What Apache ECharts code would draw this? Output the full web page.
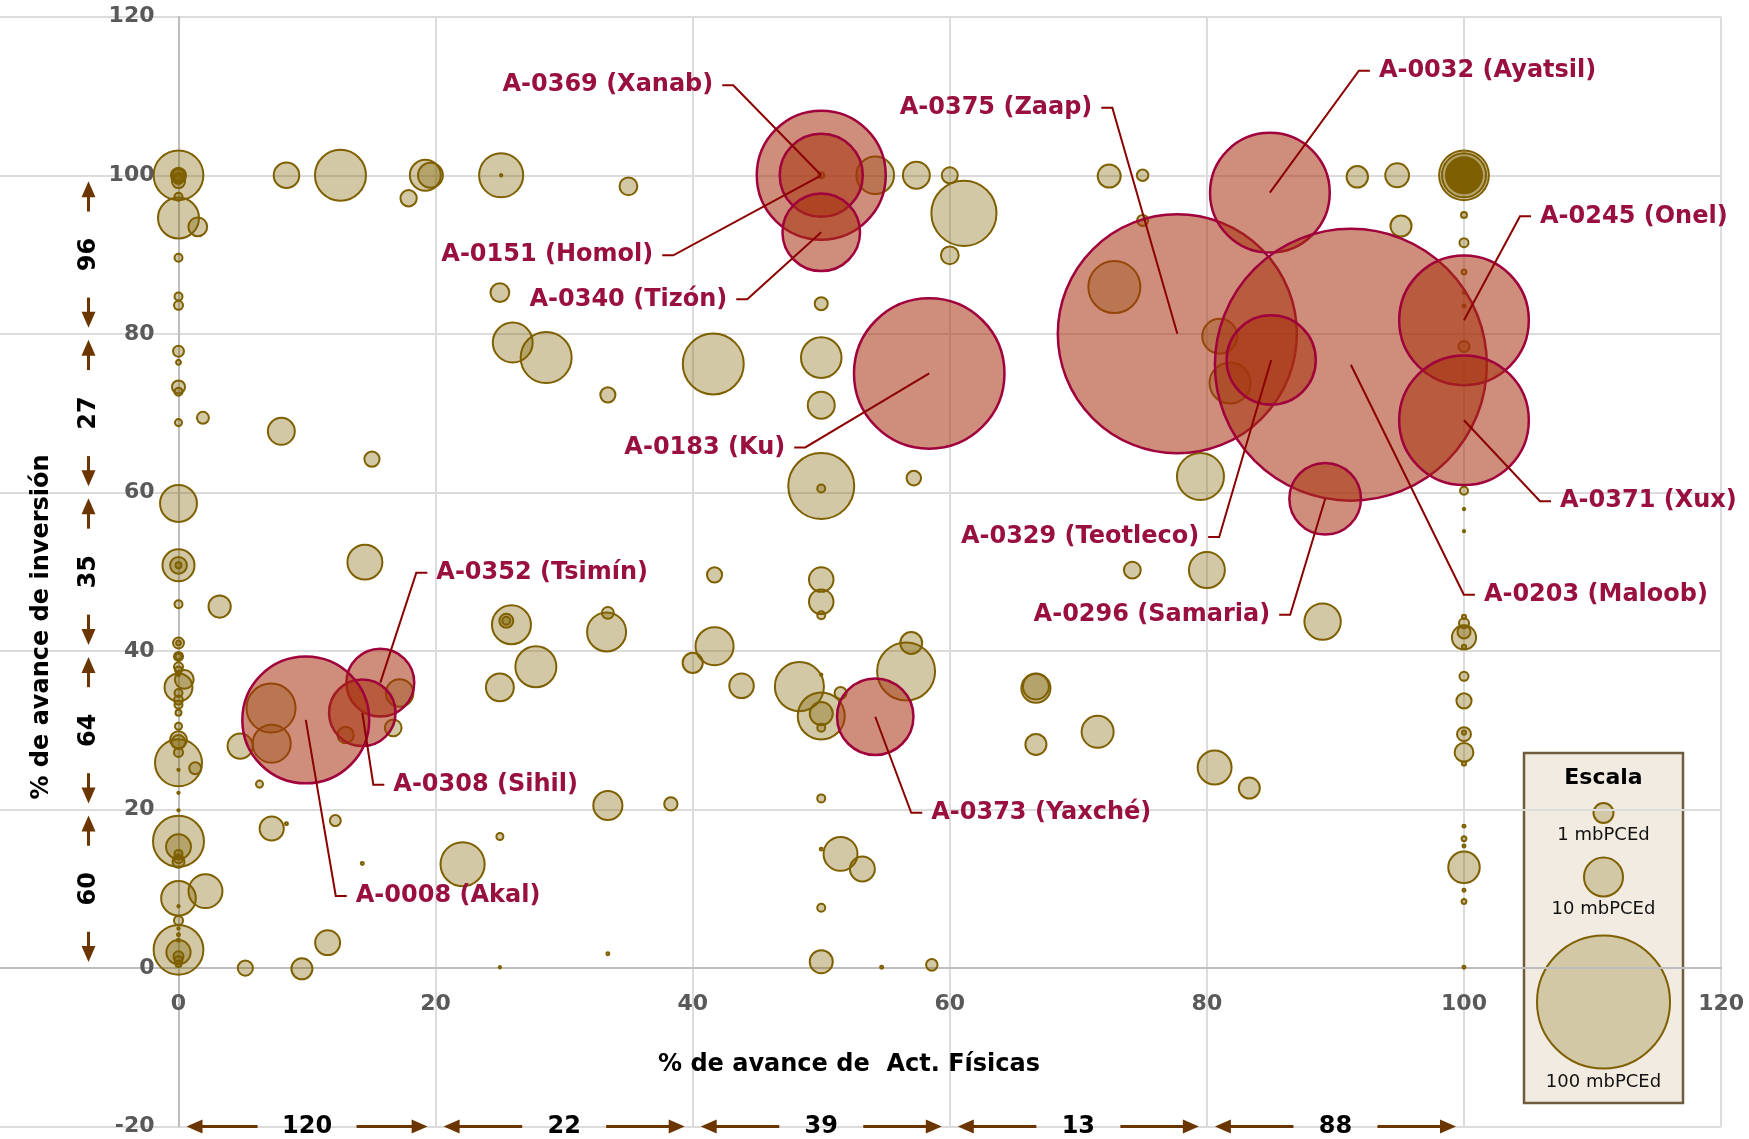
<!DOCTYPE html>
<html>
<head>
<meta charset="utf-8">
<title>Avance físico vs inversión</title>
<script src="https://cdn.jsdelivr.net/npm/echarts@6/dist/echarts.min.js"></script>
<style>
  html, body { margin: 0; padding: 0; background: #fff; }
  #chart { width: 1749px; height: 1139px; }
</style>
</head>
<body>
<div id="chart"></div>
<script>
// campos destacados: [nombre, % avance act. físicas, % avance inversión, producción mbPCEd]
const mainFields = [
  ['A-0369 (Xanab)', 50, 100, 94],
  ['A-0151 (Homol)', 50, 100, 39],
  ['A-0340 (Tizón)', 50, 92.8, 34],
  ['A-0375 (Zaap)', 77.7, 80.0, 323],
  ['A-0032 (Ayatsil)', 84.9, 97.8, 81],
  ['A-0203 (Maloob)', 91.2, 76.1, 418],
  ['A-0245 (Onel)', 100, 81.7, 95],
  ['A-0371 (Xux)', 100, 69.1, 95],
  ['A-0329 (Teotleco)', 85.0, 76.7, 45],
  ['A-0296 (Samaria)', 89.2, 59.2, 29],
  ['A-0183 (Ku)', 58.4, 75.0, 128],
  ['A-0352 (Tsimín)', 15.7, 36.0, 26],
  ['A-0308 (Sihil)', 14.3, 32.2, 25],
  ['A-0008 (Akal)', 9.9, 31.3, 91],
  ['A-0373 (Yaxché)', 54.2, 31.7, 33]
];

// resto de las asignaciones: [% act. físicas, % inversión, mbPCEd]
const otherFields = [
  [0, 100, 14], [0, 100, 1.3], [0, 100, 0.96], [0, 100, 0.8], [0, 99.6, 0.68], [0, 99.2, 0.96], [0, 97.3, 0.36],
  [0, 94.6, 9.5], [1.5, 93.5, 2.0], [0, 89.6, 0.36], [0, 84.7, 0.36], [0, 83.6, 0.46],
  [0, 77.8, 0.68], [0, 76.4, 0.14], [0, 73.3, 0.96], [0, 72.7, 0.36],
  [8.4, 100, 3.7], [12.6, 100, 14.7], [19.2, 100, 5.4], [19.6, 100, 3.5], [17.9, 97.1, 1.5],
  [25.1, 100, 11], [25.1, 100, 0.03], [35.0, 98.6, 1.8], [25.0, 85.2, 2.0], [26.0, 78.9, 9.0],
  [28.6, 77.0, 14.7], [33.4, 72.3, 1.3],
  [50, 100, 0.2], [54.2, 100, 8.0], [57.4, 100, 4.1], [60.0, 100, 1.45], [61.1, 95.2, 24],
  [60.0, 89.9, 1.8], [50.0, 83.8, 0.96], [41.6, 76.2, 21], [50.0, 77.0, 9.3], [50.0, 71.0, 4.1],
  [72.8, 85.9, 15.3], [72.4, 99.9, 3.0], [75.0, 100, 0.75], [75.0, 94.3, 0.68],
  [91.7, 99.8, 2.6], [94.8, 100, 3.2], [95.1, 93.6, 2.5],
  [100, 100, 14], [100, 100, 11], [100, 100, 7.3], [100, 100, 6.9], [100, 100, 6.5], [100, 100, 6.2],
  [100, 100, 5.8], [100, 100, 5.4], [100, 100, 4.4], [100, 100, 3.0], [100, 100, 1.8], [100, 100, 0.96],
  [100, 95.0, 0.2], [100, 91.5, 0.46], [100, 87.8, 0.14], [100, 85.2, 0.05], [100, 83.5, 0.05], [100, 78.4, 0.68],
  [81.0, 79.7, 6.9], [81.8, 73.8, 9.5],
  [0, 68.8, 0.28], [1.9, 69.4, 0.81], [8.0, 67.7, 4.1], [15.05, 64.2, 1.3], [0, 58.6, 7.7],
  [0, 50.8, 5.8], [0, 50.8, 1.6], [0, 50.8, 0.2], [14.5, 51.2, 6.9], [0, 45.9, 0.36], [3.2, 45.6, 2.8],
  [0, 41.0, 0.68], [0, 41.0, 0.14], [0, 39.3, 0.46], [0, 39.3, 0.2], [0, 38.0, 0.46], [0, 37.6, 0.28], [0, 37.0, 0.05],
  [0.45, 36.4, 2.0], [0, 35.4, 4.4], [0, 34.7, 0.36], [0, 33.8, 0.46], [0, 33.2, 0.36], [0, 32.2, 0.2],
  [0, 30.5, 0.28], [0, 28.8, 1.6], [0, 28.5, 1.1], [0, 27.2, 0.46], [0, 25.9, 12.5], [1.3, 25.2, 0.81],
  [0, 25.0, 0.03], [0, 22.1, 0.03], [0, 19.9, 0.03],
  [4.8, 28.0, 3.6], [6.3, 23.2, 0.28], [7.2, 32.8, 13.6], [7.25, 28.3, 8.2], [13.0, 29.4, 1.5],
  [17.2, 34.7, 4.3], [16.7, 30.3, 1.6],
  [25.9, 43.3, 8.6], [25.5, 43.8, 1.1], [25.5, 43.8, 0.36], [27.8, 38.0, 9.5], [25.0, 35.4, 4.4],
  [33.4, 44.8, 0.81], [33.3, 42.4, 8.6],
  [50, 60.8, 24.6], [50, 60.5, 0.36], [57.2, 61.8, 1.2], [41.7, 49.6, 1.3], [50, 49.0, 3.4], [50, 46.2, 3.4], [50, 44.5, 0.36],
  [41.7, 40.6, 8.2], [40.0, 38.5, 2.3], [43.8, 35.6, 3.4], [48.3, 35.5, 13.6],
  [50, 31.8, 12.5], [50, 32.1, 3.0], [50, 30.3, 0.36], [51.5, 34.7, 0.81], [50, 37.0, 0.03],
  [57.0, 41.0, 2.7], [56.6, 37.4, 19], [66.7, 35.3, 4.8], [66.7, 35.5, 3.8], [66.7, 28.2, 2.5], [71.5, 29.8, 5.8],
  [74.2, 50.2, 1.6], [80, 50.2, 7.3], [79.5, 62.0, 12.5], [89.0, 43.7, 7.5],
  [100, 60.2, 0.36], [100, 57.9, 0.03], [100, 55.1, 0.03],
  [100, 41.7, 3.3], [100, 42.4, 0.96], [100, 43.5, 0.57], [100, 44.3, 0.1], [100, 40.5, 0.1],
  [100, 36.8, 0.46], [100, 33.7, 1.3], [100, 29.5, 1.1], [100, 29.7, 0.1], [100, 27.2, 2.0], [100, 25.8, 0.1],
  [80.6, 25.3, 6.5], [83.3, 22.7, 2.5],
  [100, 17.9, 0.05], [100, 16.3, 0.14], [100, 15.4, 0.05], [100, 12.7, 5.6], [100, 9.8, 0.05], [100, 8.4, 0.14], [100, 0.1, 0.05],
  [0, 16.0, 14.7], [0, 15.3, 3.5], [0, 14.4, 0.36], [0, 13.8, 0.46], [0, 13.4, 0.81],
  [0, 8.8, 6.8], [2.1, 9.7, 6.5], [0, 6.0, 0.46], [0, 7.8, 0.03], [0, 5.0, 0.03], [0, 4.2, 0.05], [0, 3.5, 0.05],
  [0, 2.3, 14], [0, 2.0, 3.3], [0, 1.5, 0.57], [0, 1.0, 0.36], [0, 0.5, 0.2],
  [5.2, 0.0, 1.3], [9.6, -0.1, 2.5], [11.6, 3.2, 3.5], [7.25, 17.6, 3.3], [8.4, 18.2, 0.05], [12.2, 18.6, 0.68],
  [14.3, 13.2, 0.05], [22.1, 13.1, 11], [25.0, 16.6, 0.28], [25.0, 0.1, 0.03],
  [33.4, 20.5, 4.8], [38.3, 20.7, 1.0], [33.4, 1.8, 0.05],
  [50, 21.4, 0.36], [51.5, 14.4, 6.5], [53.2, 12.5, 3.5], [50, 15.0, 0.05], [50, 7.6, 0.36], [50, 0.8, 3.0],
  [54.7, 0.1, 0.05], [58.6, 0.4, 0.75]
];

// número de asignaciones por tramo: [desde, hasta, cantidad]
const xBands = [[0, 20, 120], [20, 40, 22], [40, 60, 39], [60, 80, 13], [80, 100, 88]];
const yBands = [[80, 100, 96], [60, 80, 27], [40, 60, 35], [20, 40, 64], [0, 20, 60]];

const axisTicks = [-20, 0, 20, 40, 60, 80, 100, 120];
const scaleValues = ['1 mbPCEd', '10 mbPCEd', '100 mbPCEd'];

// posición de las etiquetas (px respecto al centro de la burbuja)
const labelPlacement = {
  'A-0369 (Xanab)': [-88, -90, 'left'],
  'A-0151 (Homol)': [-148, 80, 'left'],
  'A-0340 (Tizón)': [-74, 67, 'left'],
  'A-0375 (Zaap)': [-65, -226, 'left'],
  'A-0032 (Ayatsil)': [89, -122, 'right'],
  'A-0203 (Maloob)': [113, 230, 'right'],
  'A-0245 (Onel)': [56, -104, 'right'],
  'A-0371 (Xux)': [76, 81, 'right'],
  'A-0329 (Teotleco)': [-52, 177, 'left'],
  'A-0296 (Samaria)': [-35, 116, 'left'],
  'A-0183 (Ku)': [-124, 74, 'left'],
  'A-0352 (Tsimín)': [36, -110, 'right'],
  'A-0308 (Sihil)': [11, 72, 'right'],
  'A-0008 (Akal)': [30, 176, 'right'],
  'A-0373 (Yaxché)': [36, 96, 'right']
};

const FONT = '"DejaVu Sans", sans-serif';
const ARROW = '#6b3500';
const TICK_FONT = 'bold 22px ' + FONT;
const bubbleSize = (val) => 13.3 * Math.sqrt(val[2]);

function arrowHead(tip, dx, dy) {
  const len = 16, hw = 7;
  const bx = tip[0] - dx * len, by = tip[1] - dy * len;
  return {
    type: 'polygon',
    shape: { points: [tip, [bx - dy * hw, by + dx * hw], [bx + dy * hw, by - dx * hw]] },
    style: { fill: ARROW }
  };
}

function renderXBand(params, api) {
  const p0 = api.coord([api.value(0), api.value(2)]);
  const p1 = api.coord([api.value(1), api.value(2)]);
  const label = String(api.value(3));
  const y = p0[1];
  const cx = (p0[0] + p1[0]) / 2;
  const half = label.length * 7.5 + 27;
  const tl = p0[0] + 8, tr = p1[0] - 8;
  return {
    type: 'group',
    children: [
      { type: 'line', shape: { x1: cx - half, y1: y, x2: tl + 10, y2: y }, style: { stroke: ARROW, lineWidth: 3 } },
      arrowHead([tl, y], -1, 0),
      { type: 'line', shape: { x1: cx + half, y1: y, x2: tr - 10, y2: y }, style: { stroke: ARROW, lineWidth: 3 } },
      arrowHead([tr, y], 1, 0),
      { type: 'text', x: cx, y: y, style: { text: label, font: 'bold 24px ' + FONT, fill: '#000', align: 'center', verticalAlign: 'middle' } }
    ]
  };
}

function renderYBand(params, api) {
  const p0 = api.coord([api.value(0), api.value(1)]);
  const p1 = api.coord([api.value(0), api.value(2)]);
  const label = String(api.value(3));
  const x = p0[0] - 90;
  const cy = (p0[1] + p1[1]) / 2;
  const half = label.length * 7.5 + 28;
  const tb = p0[1] - 6, tt = p1[1] + 6;
  return {
    type: 'group',
    children: [
      { type: 'line', shape: { x1: x, y1: cy - half, x2: x, y2: tt + 10 }, style: { stroke: ARROW, lineWidth: 3 } },
      arrowHead([x, tt], 0, -1),
      { type: 'line', shape: { x1: x, y1: cy + half, x2: x, y2: tb - 10 }, style: { stroke: ARROW, lineWidth: 3 } },
      arrowHead([x, tb], 0, 1),
      { type: 'text', x: x, y: cy, rotation: Math.PI / 2, style: { text: label, font: 'bold 24px ' + FONT, fill: '#000', align: 'center', verticalAlign: 'middle' } }
    ]
  };
}

// etiquetas de los ejes, ancladas al cruce de los ejes en 0
function renderXTick(params, api) {
  const p = api.coord([api.value(0), 0]);
  return { type: 'text', x: p[0], y: p[1] + 36, style: { text: String(api.value(0)), font: TICK_FONT, fill: '#595959', align: 'center', verticalAlign: 'middle' } };
}
function renderYTick(params, api) {
  const p = api.coord([0, api.value(1)]);
  return { type: 'text', x: p[0] - 24, y: p[1], style: { text: String(api.value(1)), font: TICK_FONT, fill: '#595959', align: 'right', verticalAlign: 'middle' } };
}

function renderLabel(params, api) {
  const name = mainFields[params.dataIndex][0];
  const c = api.coord([api.value(0), api.value(1)]);
  const [dx, dy, side] = labelPlacement[name];
  const dir = side === 'left' ? -1 : 1;
  const kx = c[0] + dx, ky = c[1] + dy;
  const sx = kx + dir * 11;
  return {
    type: 'group',
    children: [
      { type: 'polyline', shape: { points: [c, [kx, ky], [sx, ky]] }, style: { stroke: '#8b0000', lineWidth: 2, fill: null } },
      { type: 'text', x: sx + dir * 9, y: ky, style: { text: name, font: 'bold 24px ' + FONT, fill: '#990f3d', align: side === 'left' ? 'right' : 'left', verticalAlign: 'middle' } }
    ]
  };
}

// leyenda de escala
const legendY = [813, 877, 1002];
const legendD = [20, 39, 133];
const legendTextY = [835, 909, 1082];
const legendItems = [
  { type: 'rect', shape: { x: 1524, y: 753, width: 159, height: 350 }, style: { fill: '#f1ebe1', stroke: '#6e5c3c', lineWidth: 2.5 } },
  { type: 'text', x: 1603.5, y: 778, style: { text: 'Escala', font: 'bold 22px ' + FONT, fill: '#000', align: 'center', verticalAlign: 'middle' } }
];
scaleValues.forEach((t, i) => {
  legendItems.push({ type: 'circle', shape: { cx: 1603.5, cy: legendY[i], r: legendD[i] / 2 }, style: { fill: '#d3c8a6', stroke: '#7f6000', lineWidth: 2 } });
  legendItems.push({ type: 'text', x: 1603.5, y: legendTextY[i], style: { text: t, font: '18px ' + FONT, fill: '#111', align: 'center', verticalAlign: 'middle' } });
});

const chart = echarts.init(document.getElementById('chart'));
chart.setOption({
  animation: false,
  backgroundColor: '#fff',
  grid: { left: -78.6, right: 27.9, top: 16.7, bottom: 12.4, containLabel: false, outerBoundsMode: 'none' },
  xAxis: {
    type: 'value', min: axisTicks[0], max: axisTicks[axisTicks.length - 1], interval: 20,
    axisLine: { onZero: true, lineStyle: { color: '#bdbdbd', width: 2 } },
    axisTick: { show: false },
    axisLabel: { show: false },
    splitLine: { show: true, lineStyle: { color: '#dcdcdc', width: 2 } }
  },
  yAxis: {
    type: 'value', min: axisTicks[0], max: axisTicks[axisTicks.length - 1], interval: 20,
    axisLine: { onZero: true, lineStyle: { color: '#bdbdbd', width: 2 } },
    axisTick: { show: false },
    axisLabel: { show: false },
    splitLine: { show: true, lineStyle: { color: '#dcdcdc', width: 2 } }
  },
  graphic: [
    { type: 'text', x: 42, y: 627, rotation: Math.PI / 2, z: 100, style: { text: '% de avance de inversión', font: 'bold 24px ' + FONT, fill: '#000', align: 'center', verticalAlign: 'middle' } },
    { type: 'text', x: 849, y: 1065, z: 100, style: { text: '% de avance de  Act. Físicas', font: 'bold 24px ' + FONT, fill: '#000', align: 'center', verticalAlign: 'middle' } },
    { type: 'group', z: 100, children: legendItems }
  ],
  series: [
    {
      name: 'Asignaciones', type: 'scatter', data: otherFields, symbolSize: bubbleSize,
      itemStyle: { color: 'rgba(127,96,0,0.35)', borderColor: '#7f6000', borderWidth: 2, opacity: 1 },
      z: 3
    },
    {
      name: 'Principales', type: 'scatter', data: mainFields.map(f => [f[1], f[2], f[3]]), symbolSize: bubbleSize,
      itemStyle: { color: 'rgba(166,50,15,0.55)', borderColor: '#a0003c', borderWidth: 2.5, opacity: 1 },
      z: 4
    },
    {
      type: 'custom', renderItem: renderLabel, data: mainFields.map(f => [f[1], f[2]]), z: 6, silent: true
    },
    {
      type: 'custom', renderItem: renderXBand, data: xBands.map(b => [b[0], b[1], axisTicks[0], b[2]]),
      encode: { x: [0, 1], y: 2 }, z: 5, silent: true
    },
    {
      type: 'custom', renderItem: renderYBand, data: yBands.map(b => [0, b[0], b[1], b[2]]),
      encode: { x: 0, y: [1, 2] }, z: 5, silent: true
    },
    {
      type: 'custom', renderItem: renderXTick, data: axisTicks.filter(t => t >= 0).map(t => [t, 0]), z: 5, silent: true
    },
    {
      type: 'custom', renderItem: renderYTick, data: axisTicks.map(t => [0, t]), z: 5, silent: true
    }
  ]
});
</script>
</body>
</html>
